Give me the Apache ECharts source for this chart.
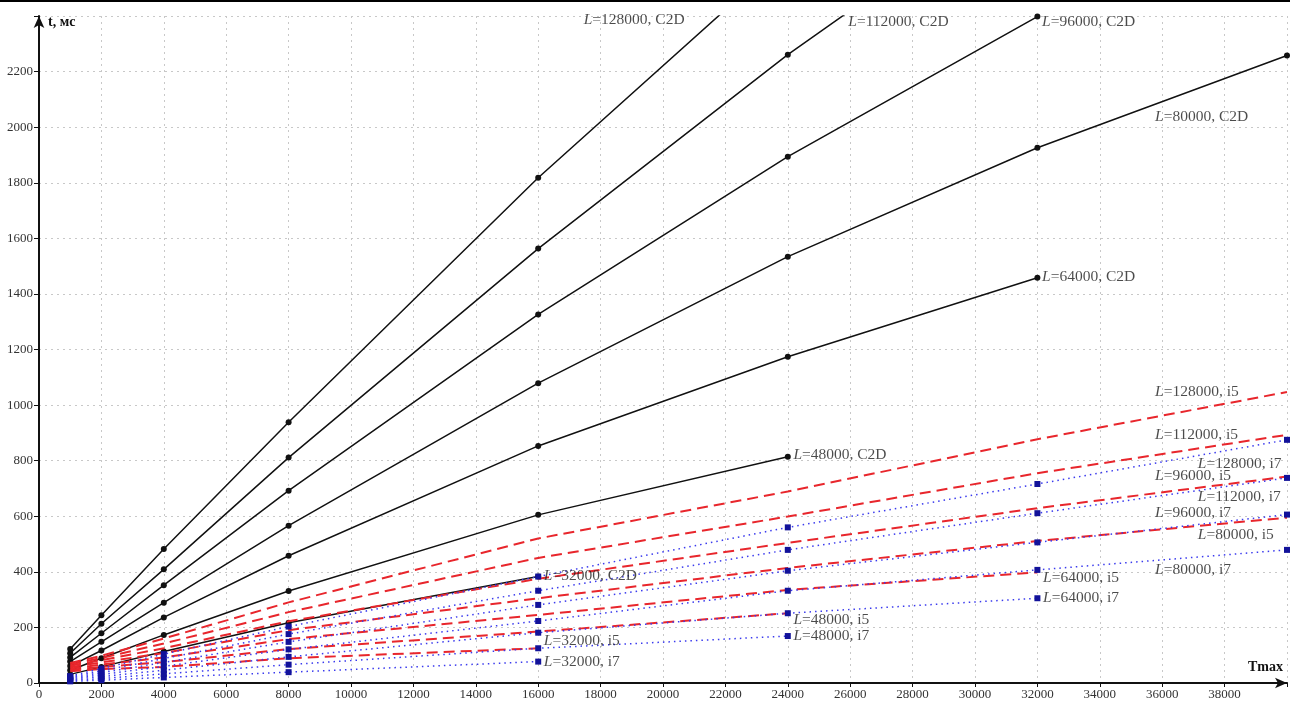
<!DOCTYPE html>
<html>
<head>
<meta charset="utf-8">
<script src="https://cdn.jsdelivr.net/npm/echarts@6/dist/echarts.min.js"></script>
<style>html,body{margin:0;padding:0;background:#fff}#c{width:1290px;height:704px}</style>
</head>
<body>
<div id="c"></div>
<script>
// Tmax values (x axis)
const tmax = [1000, 2000, 4000, 8000, 16000, 24000, 32000, 40000];
const xTicks = [0, 2000, 4000, 6000, 8000, 10000, 12000, 14000, 16000, 18000, 20000, 22000, 24000, 26000, 28000, 30000, 32000, 34000, 36000, 38000];
const yTicks = [0, 200, 400, 600, 800, 1000, 1200, 1400, 1600, 1800, 2000, 2200];

// C2D times, ms (black solid)
const c2d_32000  = [31, 58, 113, 217, 383];
const c2d_48000  = [46, 89, 173, 331, 605, 814];
const c2d_64000  = [61, 117, 236, 458, 853, 1174, 1458];
const c2d_80000  = [77, 148, 289, 566, 1079, 1534, 1926, 2258];
const c2d_96000  = [92, 179, 352, 692, 1326, 1894, 2398];
const c2d_112000 = [107, 213, 409, 811, 1563, 2261, 2895];
const c2d_128000 = [122, 244, 482, 938, 1818, 2624];

// i5 times, ms (red dashed)
const i5_32000  = [42, 50, 58, 89, 125];
const i5_48000  = [47, 58, 75, 122, 185, 251];
const i5_64000  = [52, 66, 92, 158, 245, 335, 398];
const i5_80000  = [57, 74, 108, 190, 305, 414, 511, 595];
const i5_96000  = [62, 82, 125, 222, 375, 504, 629, 743];
const i5_112000 = [67, 90, 142, 255, 450, 599, 755, 893];
const i5_128000 = [72, 98, 160, 290, 520, 689, 877, 1047];

// i7 times, ms (blue dotted, square markers)
const i7_32000  = [6, 10, 20, 39, 77];
const i7_48000  = [9, 16, 33, 66, 125, 169];
const i7_64000  = [12, 23, 46, 94, 181, 251, 305];
const i7_80000  = [15, 30, 60, 121, 223, 332, 407, 479];
const i7_96000  = [18, 37, 74, 148, 281, 404, 506, 606];
const i7_112000 = [21, 44, 88, 176, 332, 479, 611, 738];
const i7_128000 = [25, 52, 104, 203, 383, 560, 716, 875];

const lValues = [32000, 48000, 64000, 80000, 96000, 112000, 128000];
const c2dSets = [c2d_32000, c2d_48000, c2d_64000, c2d_80000, c2d_96000, c2d_112000, c2d_128000];
const i5Sets  = [i5_32000, i5_48000, i5_64000, i5_80000, i5_96000, i5_112000, i5_128000];
const i7Sets  = [i7_32000, i7_48000, i7_64000, i7_80000, i7_96000, i7_112000, i7_128000];

// curve annotations: text and anchor (data units, left-middle of text)
const annotText = [
  'L=128000, C2D', 'L=112000, C2D', 'L=96000, C2D', 'L=80000, C2D', 'L=64000, C2D', 'L=48000, C2D', 'L=32000, C2D',
  'L=128000, i5', 'L=112000, i5', 'L=96000, i5', 'L=80000, i5', 'L=64000, i5', 'L=48000, i5', 'L=32000, i5',
  'L=128000, i7', 'L=112000, i7', 'L=96000, i7', 'L=80000, i7', 'L=64000, i7', 'L=48000, i7', 'L=32000, i7'
];
const annotX = [17460, 25940, 32150, 35770, 32150, 24180, 16180,
                35770, 35770, 35770, 37140, 32180, 24180, 16180,
                37140, 37140, 35770, 35770, 32180, 24180, 16180];
const annotY = [2386, 2379, 2379, 2037, 1461, 820, 385,
                1047, 892, 745, 533, 378, 227, 151,
                788, 669, 612, 407, 306, 169, 76];

const SERIF = '"Liberation Serif", "DejaVu Serif", serif';
const toPts = arr => arr.map((v, i) => [tmax[i], v]);

const series = [];
lValues.forEach((L, k) => {
  series.push({
    name: 'C2D ' + L, type: 'line', data: toPts(c2dSets[k]), z: 3,
    symbol: 'circle', symbolSize: 6, showSymbol: true,
    lineStyle: {color: '#111', width: 1.5}, itemStyle: {color: '#111'},
    animation: false, silent: true
  });
});
lValues.forEach((L, k) => {
  series.push({
    name: 'i5 ' + L, type: 'line', data: toPts(i5Sets[k]), z: 4,
    symbol: 'none',
    lineStyle: {color: '#e8262c', width: 2, type: [11, 6]},
    animation: false, silent: true
  });
});
lValues.forEach((L, k) => {
  series.push({
    name: 'i7 ' + L, type: 'line', data: toPts(i7Sets[k]), z: 5,
    symbol: 'rect', symbolSize: 6, showSymbol: true,
    lineStyle: {color: '#3a3aee', width: 1.5, type: [1.5, 4]},
    itemStyle: {color: '#12129a'},
    animation: false, silent: true
  });
});
series.push({
  name: 'labels', type: 'scatter', z: 6, symbolSize: 0, silent: true, animation: false,
  data: annotText.map((t, i) => ({name: t, value: [annotX[i], annotY[i]]})),
  label: {
    show: true, position: 'right', distance: 0,
    formatter: p => '{it|L}' + p.name.slice(1),
    fontFamily: SERIF, fontSize: 15.5, color: '#1e1e1e',
    rich: {it: {fontStyle: 'italic', fontFamily: SERIF, fontSize: 15.5, color: '#1e1e1e'}}
  }
});

const chart = echarts.init(document.getElementById('c'), null, {renderer: 'canvas'});
chart.setOption({
  backgroundColor: '#fff',
  animation: false,
  grid: {left: 39, right: 1, top: 16, bottom: 21, containLabel: false},
  xAxis: {
    type: 'value', min: 0, max: 40000, interval: 2000,
    axisLine: {show: true, lineStyle: {color: '#111', width: 2}, symbol: ['none', 'arrow'], symbolSize: [8, 12]},
    axisTick: {show: true, inside: false, length: 4, lineStyle: {color: '#111'}},
    axisLabel: {
      margin: 5, fontFamily: SERIF, fontSize: 13, color: '#333',
      formatter: v => xTicks.indexOf(v) >= 0 ? String(v) : ''
    },
    splitLine: {show: true, lineStyle: {color: '#c8c8c8', type: [2, 4], width: 1}}
  },
  yAxis: {
    type: 'value', min: 0, max: 2400, interval: 200,
    axisLine: {show: true, lineStyle: {color: '#111', width: 2}, symbol: ['none', 'arrow'], symbolSize: [8, 12]},
    axisTick: {show: true, inside: false, length: 5, lineStyle: {color: '#111'}},
    axisLabel: {
      margin: 6, fontFamily: SERIF, fontSize: 13, color: '#333',
      formatter: v => yTicks.indexOf(v) >= 0 ? String(v) : ''
    },
    splitLine: {show: true, lineStyle: {color: '#c8c8c8', type: [2, 4], width: 1}}
  },
  graphic: [
    {type: 'rect', left: 0, top: 0, shape: {width: 1290, height: 2}, style: {fill: '#000'}, silent: true},
    {type: 'text', left: 48, top: 15, style: {text: 't, мс', font: 'bold 14px ' + SERIF, fill: '#111'}, silent: true},
    {type: 'text', left: 1248, top: 660, style: {text: 'Tmax', font: 'bold 14px ' + SERIF, fill: '#111'}, silent: true}
  ],
  series: series
});
</script>
</body>
</html>
